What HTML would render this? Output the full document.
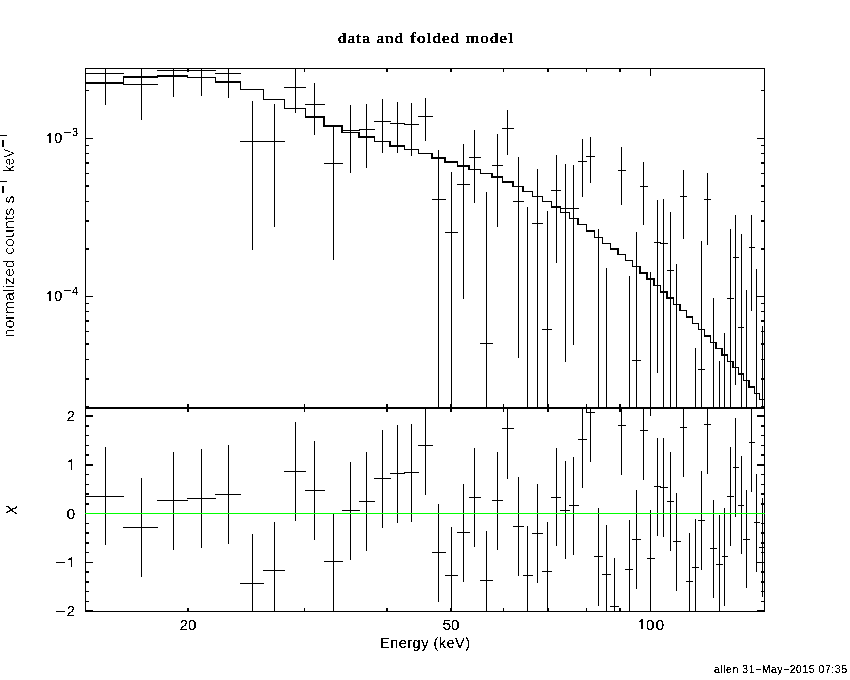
<!DOCTYPE html>
<html><head><meta charset="utf-8"><title>data and folded model</title>
<style>
html,body{margin:0;padding:0;background:#fff;}
body{width:850px;height:680px;overflow:hidden;}
svg{display:block;}
</style></head>
<body>
<svg width="850" height="680" viewBox="0 0 850 680">
<defs><filter id="bw" x="0" y="0" width="100%" height="100%"><feComponentTransfer><feFuncA type="discrete" tableValues="0 0 1 1 1"/></feComponentTransfer></filter><filter id="bw5" x="0" y="0" width="100%" height="100%"><feComponentTransfer><feFuncA type="discrete" tableValues="0 0 0 1 1"/></feComponentTransfer></filter></defs>
<rect x="0" y="0" width="850" height="680" fill="#fff"/>
<g shape-rendering="crispEdges" fill="#000">
<rect x="85" y="68" width="1" height="544"/>
<rect x="764" y="68" width="1" height="544"/>
<rect x="85" y="68" width="680" height="1"/>
<rect x="85" y="407" width="680" height="1"/>
<rect x="85" y="408" width="680" height="1"/>
<rect x="85" y="611" width="680" height="1"/>
<rect x="187" y="69" width="1" height="3"/>
<rect x="187" y="404" width="1" height="3"/>
<rect x="187" y="409" width="1" height="3"/>
<rect x="187" y="608" width="1" height="3"/>
<rect x="188" y="69" width="1" height="3"/>
<rect x="188" y="404" width="1" height="3"/>
<rect x="188" y="409" width="1" height="3"/>
<rect x="188" y="608" width="1" height="3"/>
<rect x="304" y="69" width="1" height="3"/>
<rect x="304" y="404" width="1" height="3"/>
<rect x="304" y="409" width="1" height="3"/>
<rect x="304" y="608" width="1" height="3"/>
<rect x="386" y="69" width="1" height="3"/>
<rect x="386" y="404" width="1" height="3"/>
<rect x="386" y="409" width="1" height="3"/>
<rect x="386" y="608" width="1" height="3"/>
<rect x="387" y="69" width="1" height="3"/>
<rect x="387" y="404" width="1" height="3"/>
<rect x="387" y="409" width="1" height="3"/>
<rect x="387" y="608" width="1" height="3"/>
<rect x="450" y="69" width="1" height="3"/>
<rect x="450" y="404" width="1" height="3"/>
<rect x="450" y="409" width="1" height="3"/>
<rect x="450" y="608" width="1" height="3"/>
<rect x="451" y="69" width="1" height="3"/>
<rect x="451" y="404" width="1" height="3"/>
<rect x="451" y="409" width="1" height="3"/>
<rect x="451" y="608" width="1" height="3"/>
<rect x="503" y="69" width="1" height="3"/>
<rect x="503" y="404" width="1" height="3"/>
<rect x="503" y="409" width="1" height="3"/>
<rect x="503" y="608" width="1" height="3"/>
<rect x="547" y="69" width="1" height="3"/>
<rect x="547" y="404" width="1" height="3"/>
<rect x="547" y="409" width="1" height="3"/>
<rect x="547" y="608" width="1" height="3"/>
<rect x="548" y="69" width="1" height="3"/>
<rect x="548" y="404" width="1" height="3"/>
<rect x="548" y="409" width="1" height="3"/>
<rect x="548" y="608" width="1" height="3"/>
<rect x="586" y="69" width="1" height="3"/>
<rect x="586" y="404" width="1" height="3"/>
<rect x="586" y="409" width="1" height="3"/>
<rect x="586" y="608" width="1" height="3"/>
<rect x="619" y="69" width="1" height="3"/>
<rect x="619" y="404" width="1" height="3"/>
<rect x="619" y="409" width="1" height="3"/>
<rect x="619" y="608" width="1" height="3"/>
<rect x="620" y="69" width="1" height="3"/>
<rect x="620" y="404" width="1" height="3"/>
<rect x="620" y="409" width="1" height="3"/>
<rect x="620" y="608" width="1" height="3"/>
<rect x="650" y="69" width="1" height="7"/>
<rect x="650" y="400" width="1" height="7"/>
<rect x="650" y="409" width="1" height="7"/>
<rect x="650" y="604" width="1" height="7"/>
<rect x="86" y="90" width="3" height="1"/>
<rect x="761" y="90" width="3" height="1"/>
<rect x="86" y="138" width="7" height="1"/>
<rect x="757" y="138" width="7" height="1"/>
<rect x="86" y="145" width="3" height="1"/>
<rect x="761" y="145" width="3" height="1"/>
<rect x="86" y="153" width="3" height="1"/>
<rect x="761" y="153" width="3" height="1"/>
<rect x="86" y="162" width="3" height="1"/>
<rect x="761" y="162" width="3" height="1"/>
<rect x="86" y="163" width="3" height="1"/>
<rect x="761" y="163" width="3" height="1"/>
<rect x="86" y="173" width="3" height="1"/>
<rect x="761" y="173" width="3" height="1"/>
<rect x="86" y="185" width="3" height="1"/>
<rect x="761" y="185" width="3" height="1"/>
<rect x="86" y="186" width="3" height="1"/>
<rect x="761" y="186" width="3" height="1"/>
<rect x="86" y="201" width="3" height="1"/>
<rect x="761" y="201" width="3" height="1"/>
<rect x="86" y="220" width="3" height="1"/>
<rect x="761" y="220" width="3" height="1"/>
<rect x="86" y="221" width="3" height="1"/>
<rect x="761" y="221" width="3" height="1"/>
<rect x="86" y="248" width="3" height="1"/>
<rect x="761" y="248" width="3" height="1"/>
<rect x="86" y="249" width="3" height="1"/>
<rect x="761" y="249" width="3" height="1"/>
<rect x="86" y="296" width="7" height="1"/>
<rect x="757" y="296" width="7" height="1"/>
<rect x="86" y="303" width="3" height="1"/>
<rect x="761" y="303" width="3" height="1"/>
<rect x="86" y="311" width="3" height="1"/>
<rect x="761" y="311" width="3" height="1"/>
<rect x="86" y="320" width="3" height="1"/>
<rect x="761" y="320" width="3" height="1"/>
<rect x="86" y="321" width="3" height="1"/>
<rect x="761" y="321" width="3" height="1"/>
<rect x="86" y="331" width="3" height="1"/>
<rect x="761" y="331" width="3" height="1"/>
<rect x="86" y="343" width="3" height="1"/>
<rect x="761" y="343" width="3" height="1"/>
<rect x="86" y="344" width="3" height="1"/>
<rect x="761" y="344" width="3" height="1"/>
<rect x="86" y="359" width="3" height="1"/>
<rect x="761" y="359" width="3" height="1"/>
<rect x="86" y="378" width="3" height="1"/>
<rect x="761" y="378" width="3" height="1"/>
<rect x="86" y="379" width="3" height="1"/>
<rect x="761" y="379" width="3" height="1"/>
<rect x="86" y="406" width="3" height="1"/>
<rect x="761" y="406" width="3" height="1"/>
<rect x="86" y="610" width="7" height="1"/>
<rect x="757" y="610" width="7" height="1"/>
<rect x="86" y="611" width="7" height="1"/>
<rect x="757" y="611" width="7" height="1"/>
<rect x="86" y="601" width="3" height="1"/>
<rect x="761" y="601" width="3" height="1"/>
<rect x="86" y="591" width="3" height="1"/>
<rect x="761" y="591" width="3" height="1"/>
<rect x="86" y="581" width="3" height="1"/>
<rect x="761" y="581" width="3" height="1"/>
<rect x="86" y="582" width="3" height="1"/>
<rect x="761" y="582" width="3" height="1"/>
<rect x="86" y="571" width="3" height="1"/>
<rect x="761" y="571" width="3" height="1"/>
<rect x="86" y="572" width="3" height="1"/>
<rect x="761" y="572" width="3" height="1"/>
<rect x="86" y="562" width="7" height="1"/>
<rect x="757" y="562" width="7" height="1"/>
<rect x="86" y="552" width="3" height="1"/>
<rect x="761" y="552" width="3" height="1"/>
<rect x="86" y="542" width="3" height="1"/>
<rect x="761" y="542" width="3" height="1"/>
<rect x="86" y="543" width="3" height="1"/>
<rect x="761" y="543" width="3" height="1"/>
<rect x="86" y="532" width="3" height="1"/>
<rect x="761" y="532" width="3" height="1"/>
<rect x="86" y="533" width="3" height="1"/>
<rect x="761" y="533" width="3" height="1"/>
<rect x="86" y="523" width="3" height="1"/>
<rect x="761" y="523" width="3" height="1"/>
<rect x="86" y="513" width="7" height="1"/>
<rect x="757" y="513" width="7" height="1"/>
<rect x="86" y="503" width="3" height="1"/>
<rect x="761" y="503" width="3" height="1"/>
<rect x="86" y="504" width="3" height="1"/>
<rect x="761" y="504" width="3" height="1"/>
<rect x="86" y="493" width="3" height="1"/>
<rect x="761" y="493" width="3" height="1"/>
<rect x="86" y="494" width="3" height="1"/>
<rect x="761" y="494" width="3" height="1"/>
<rect x="86" y="484" width="3" height="1"/>
<rect x="761" y="484" width="3" height="1"/>
<rect x="86" y="474" width="3" height="1"/>
<rect x="761" y="474" width="3" height="1"/>
<rect x="86" y="464" width="7" height="1"/>
<rect x="757" y="464" width="7" height="1"/>
<rect x="86" y="465" width="7" height="1"/>
<rect x="757" y="465" width="7" height="1"/>
<rect x="86" y="454" width="3" height="1"/>
<rect x="761" y="454" width="3" height="1"/>
<rect x="86" y="455" width="3" height="1"/>
<rect x="761" y="455" width="3" height="1"/>
<rect x="86" y="445" width="3" height="1"/>
<rect x="761" y="445" width="3" height="1"/>
<rect x="86" y="435" width="3" height="1"/>
<rect x="761" y="435" width="3" height="1"/>
<rect x="86" y="425" width="3" height="1"/>
<rect x="761" y="425" width="3" height="1"/>
<rect x="86" y="426" width="3" height="1"/>
<rect x="761" y="426" width="3" height="1"/>
<rect x="86" y="415" width="7" height="1"/>
<rect x="757" y="415" width="7" height="1"/>
<rect x="86" y="416" width="7" height="1"/>
<rect x="757" y="416" width="7" height="1"/>
<rect x="85" y="82" width="39" height="2"/>
<rect x="123" y="76" width="1" height="8"/>
<rect x="123" y="76" width="35" height="2"/>
<rect x="157" y="75" width="1" height="3"/>
<rect x="157" y="75" width="31" height="2"/>
<rect x="187" y="75" width="1" height="3"/>
<rect x="187" y="77" width="29" height="1"/>
<rect x="215" y="77" width="1" height="6"/>
<rect x="215" y="81" width="26" height="2"/>
<rect x="240" y="81" width="1" height="9"/>
<rect x="240" y="89" width="24" height="1"/>
<rect x="263" y="89" width="1" height="11"/>
<rect x="263" y="99" width="22" height="1"/>
<rect x="284" y="99" width="1" height="10"/>
<rect x="284" y="108" width="22" height="1"/>
<rect x="305" y="108" width="1" height="10"/>
<rect x="305" y="116" width="20" height="2"/>
<rect x="323" y="116" width="2" height="11"/>
<rect x="323" y="125" width="20" height="2"/>
<rect x="341" y="125" width="2" height="8"/>
<rect x="341" y="132" width="19" height="1"/>
<rect x="358" y="132" width="2" height="6"/>
<rect x="358" y="136" width="17" height="2"/>
<rect x="374" y="136" width="1" height="6"/>
<rect x="374" y="141" width="17" height="1"/>
<rect x="389" y="141" width="2" height="6"/>
<rect x="389" y="145" width="16" height="2"/>
<rect x="404" y="145" width="1" height="5"/>
<rect x="404" y="149" width="15" height="1"/>
<rect x="418" y="149" width="1" height="5"/>
<rect x="418" y="153" width="15" height="1"/>
<rect x="431" y="153" width="2" height="6"/>
<rect x="431" y="157" width="15" height="2"/>
<rect x="444" y="157" width="2" height="6"/>
<rect x="444" y="161" width="14" height="2"/>
<rect x="457" y="161" width="1" height="6"/>
<rect x="457" y="165" width="13" height="2"/>
<rect x="468" y="165" width="2" height="5"/>
<rect x="468" y="169" width="13" height="1"/>
<rect x="480" y="169" width="1" height="5"/>
<rect x="480" y="173" width="13" height="1"/>
<rect x="491" y="173" width="2" height="5"/>
<rect x="491" y="176" width="12" height="2"/>
<rect x="502" y="176" width="1" height="7"/>
<rect x="502" y="181" width="12" height="2"/>
<rect x="512" y="181" width="2" height="6"/>
<rect x="512" y="186" width="12" height="1"/>
<rect x="522" y="186" width="2" height="6"/>
<rect x="522" y="191" width="11" height="1"/>
<rect x="532" y="191" width="1" height="6"/>
<rect x="532" y="196" width="11" height="1"/>
<rect x="542" y="196" width="1" height="6"/>
<rect x="542" y="201" width="10" height="1"/>
<rect x="551" y="201" width="1" height="7"/>
<rect x="551" y="206" width="10" height="2"/>
<rect x="560" y="206" width="1" height="7"/>
<rect x="560" y="212" width="10" height="1"/>
<rect x="569" y="212" width="1" height="7"/>
<rect x="569" y="218" width="10" height="1"/>
<rect x="577" y="218" width="2" height="7"/>
<rect x="577" y="224" width="10" height="1"/>
<rect x="586" y="224" width="1" height="8"/>
<rect x="586" y="230" width="9" height="2"/>
<rect x="594" y="230" width="1" height="8"/>
<rect x="594" y="237" width="9" height="1"/>
<rect x="602" y="237" width="1" height="7"/>
<rect x="602" y="243" width="9" height="1"/>
<rect x="610" y="243" width="1" height="7"/>
<rect x="610" y="248" width="9" height="2"/>
<rect x="617" y="248" width="2" height="7"/>
<rect x="617" y="254" width="9" height="1"/>
<rect x="625" y="254" width="1" height="7"/>
<rect x="625" y="260" width="8" height="1"/>
<rect x="632" y="260" width="1" height="7"/>
<rect x="632" y="266" width="9" height="1"/>
<rect x="639" y="266" width="2" height="8"/>
<rect x="639" y="272" width="9" height="2"/>
<rect x="646" y="272" width="2" height="8"/>
<rect x="646" y="278" width="9" height="2"/>
<rect x="653" y="278" width="2" height="8"/>
<rect x="653" y="285" width="8" height="1"/>
<rect x="660" y="285" width="1" height="8"/>
<rect x="660" y="291" width="8" height="2"/>
<rect x="666" y="291" width="2" height="8"/>
<rect x="666" y="297" width="8" height="2"/>
<rect x="673" y="297" width="1" height="8"/>
<rect x="673" y="304" width="8" height="1"/>
<rect x="679" y="304" width="2" height="7"/>
<rect x="679" y="310" width="8" height="1"/>
<rect x="686" y="310" width="1" height="8"/>
<rect x="686" y="316" width="7" height="2"/>
<rect x="692" y="316" width="1" height="8"/>
<rect x="692" y="323" width="7" height="1"/>
<rect x="698" y="323" width="1" height="7"/>
<rect x="698" y="329" width="7" height="1"/>
<rect x="704" y="329" width="1" height="8"/>
<rect x="704" y="335" width="7" height="2"/>
<rect x="710" y="335" width="1" height="8"/>
<rect x="710" y="342" width="7" height="1"/>
<rect x="715" y="342" width="2" height="7"/>
<rect x="715" y="348" width="8" height="1"/>
<rect x="721" y="348" width="2" height="8"/>
<rect x="721" y="354" width="7" height="2"/>
<rect x="727" y="354" width="1" height="8"/>
<rect x="727" y="361" width="7" height="1"/>
<rect x="732" y="361" width="2" height="7"/>
<rect x="732" y="367" width="7" height="1"/>
<rect x="738" y="367" width="1" height="8"/>
<rect x="738" y="373" width="6" height="2"/>
<rect x="743" y="373" width="1" height="8"/>
<rect x="743" y="380" width="7" height="1"/>
<rect x="748" y="380" width="2" height="8"/>
<rect x="748" y="386" width="7" height="2"/>
<rect x="754" y="386" width="1" height="8"/>
<rect x="754" y="393" width="6" height="1"/>
<rect x="759" y="393" width="1" height="7"/>
<rect x="759" y="399" width="6" height="1"/>
<rect x="85" y="73" width="39" height="1"/>
<rect x="105" y="68" width="1" height="37"/>
<rect x="123" y="84" width="35" height="1"/>
<rect x="141" y="68" width="1" height="52"/>
<rect x="157" y="70" width="31" height="1"/>
<rect x="173" y="68" width="1" height="29"/>
<rect x="187" y="70" width="29" height="1"/>
<rect x="201" y="68" width="1" height="28"/>
<rect x="215" y="73" width="26" height="1"/>
<rect x="228" y="68" width="1" height="30"/>
<rect x="240" y="141" width="24" height="1"/>
<rect x="252" y="101" width="1" height="149"/>
<rect x="263" y="141" width="22" height="1"/>
<rect x="274" y="104" width="1" height="123"/>
<rect x="284" y="87" width="22" height="1"/>
<rect x="295" y="68" width="1" height="45"/>
<rect x="305" y="104" width="20" height="1"/>
<rect x="314" y="83" width="1" height="52"/>
<rect x="324" y="163" width="19" height="1"/>
<rect x="333" y="126" width="1" height="134"/>
<rect x="342" y="130" width="18" height="1"/>
<rect x="350" y="105" width="1" height="68"/>
<rect x="359" y="129" width="16" height="1"/>
<rect x="366" y="104" width="1" height="64"/>
<rect x="374" y="121" width="17" height="1"/>
<rect x="382" y="99" width="1" height="54"/>
<rect x="390" y="123" width="15" height="1"/>
<rect x="397" y="102" width="1" height="51"/>
<rect x="404" y="124" width="15" height="1"/>
<rect x="411" y="103" width="1" height="53"/>
<rect x="418" y="116" width="15" height="1"/>
<rect x="425" y="98" width="1" height="43"/>
<rect x="432" y="199" width="14" height="1"/>
<rect x="438" y="150" width="1" height="258"/>
<rect x="445" y="232" width="13" height="1"/>
<rect x="451" y="172" width="1" height="236"/>
<rect x="457" y="184" width="13" height="1"/>
<rect x="463" y="144" width="1" height="155"/>
<rect x="469" y="157" width="12" height="1"/>
<rect x="474" y="130" width="1" height="73"/>
<rect x="480" y="343" width="13" height="1"/>
<rect x="486" y="192" width="1" height="216"/>
<rect x="492" y="165" width="11" height="1"/>
<rect x="497" y="134" width="1" height="93"/>
<rect x="502" y="128" width="12" height="1"/>
<rect x="507" y="110" width="1" height="45"/>
<rect x="513" y="201" width="11" height="1"/>
<rect x="518" y="157" width="1" height="201"/>
<rect x="527" y="207" width="1" height="201"/>
<rect x="532" y="223" width="11" height="1"/>
<rect x="537" y="169" width="1" height="239"/>
<rect x="542" y="329" width="10" height="1"/>
<rect x="547" y="211" width="1" height="197"/>
<rect x="551" y="190" width="10" height="1"/>
<rect x="556" y="155" width="1" height="108"/>
<rect x="560" y="208" width="10" height="1"/>
<rect x="565" y="164" width="1" height="198"/>
<rect x="569" y="208" width="10" height="1"/>
<rect x="573" y="165" width="1" height="180"/>
<rect x="578" y="161" width="9" height="1"/>
<rect x="582" y="139" width="1" height="58"/>
<rect x="586" y="156" width="9" height="1"/>
<rect x="590" y="137" width="1" height="46"/>
<rect x="598" y="229" width="1" height="179"/>
<rect x="606" y="268" width="1" height="140"/>
<rect x="618" y="170" width="8" height="1"/>
<rect x="621" y="147" width="1" height="58"/>
<rect x="629" y="276" width="1" height="132"/>
<rect x="632" y="360" width="9" height="1"/>
<rect x="636" y="232" width="1" height="176"/>
<rect x="640" y="186" width="8" height="1"/>
<rect x="643" y="162" width="1" height="63"/>
<rect x="650" y="272" width="1" height="136"/>
<rect x="654" y="242" width="7" height="1"/>
<rect x="657" y="200" width="1" height="173"/>
<rect x="660" y="243" width="8" height="1"/>
<rect x="663" y="199" width="1" height="209"/>
<rect x="667" y="270" width="7" height="1"/>
<rect x="670" y="212" width="1" height="196"/>
<rect x="676" y="264" width="1" height="144"/>
<rect x="680" y="196" width="7" height="1"/>
<rect x="683" y="170" width="1" height="69"/>
<rect x="695" y="348" width="1" height="60"/>
<rect x="698" y="369" width="7" height="1"/>
<rect x="701" y="241" width="1" height="167"/>
<rect x="704" y="199" width="7" height="1"/>
<rect x="707" y="173" width="1" height="72"/>
<rect x="713" y="298" width="1" height="110"/>
<rect x="719" y="361" width="1" height="47"/>
<rect x="724" y="333" width="1" height="75"/>
<rect x="727" y="298" width="7" height="1"/>
<rect x="730" y="229" width="1" height="179"/>
<rect x="733" y="257" width="6" height="1"/>
<rect x="735" y="215" width="1" height="170"/>
<rect x="738" y="327" width="6" height="1"/>
<rect x="741" y="234" width="1" height="174"/>
<rect x="746" y="290" width="1" height="118"/>
<rect x="749" y="247" width="6" height="1"/>
<rect x="751" y="215" width="1" height="96"/>
<rect x="756" y="269" width="1" height="139"/>
<rect x="762" y="326" width="1" height="82"/>
<rect x="85" y="496" width="39" height="1"/>
<rect x="105" y="447" width="1" height="98"/>
<rect x="123" y="527" width="35" height="1"/>
<rect x="141" y="478" width="1" height="99"/>
<rect x="157" y="500" width="31" height="1"/>
<rect x="173" y="452" width="1" height="98"/>
<rect x="187" y="498" width="29" height="1"/>
<rect x="201" y="449" width="1" height="99"/>
<rect x="215" y="494" width="26" height="1"/>
<rect x="228" y="445" width="1" height="99"/>
<rect x="240" y="583" width="24" height="1"/>
<rect x="252" y="534" width="1" height="78"/>
<rect x="263" y="570" width="22" height="1"/>
<rect x="274" y="522" width="1" height="90"/>
<rect x="284" y="471" width="22" height="1"/>
<rect x="295" y="422" width="1" height="99"/>
<rect x="305" y="490" width="20" height="1"/>
<rect x="314" y="441" width="1" height="99"/>
<rect x="324" y="561" width="19" height="1"/>
<rect x="333" y="513" width="1" height="99"/>
<rect x="342" y="510" width="18" height="1"/>
<rect x="350" y="462" width="1" height="98"/>
<rect x="359" y="501" width="16" height="1"/>
<rect x="366" y="452" width="1" height="99"/>
<rect x="374" y="478" width="17" height="1"/>
<rect x="382" y="430" width="1" height="98"/>
<rect x="390" y="473" width="15" height="1"/>
<rect x="397" y="425" width="1" height="98"/>
<rect x="404" y="472" width="15" height="1"/>
<rect x="411" y="424" width="1" height="98"/>
<rect x="418" y="445" width="15" height="1"/>
<rect x="425" y="408" width="1" height="87"/>
<rect x="432" y="552" width="14" height="1"/>
<rect x="438" y="504" width="1" height="98"/>
<rect x="445" y="575" width="13" height="1"/>
<rect x="451" y="527" width="1" height="85"/>
<rect x="457" y="532" width="13" height="1"/>
<rect x="463" y="484" width="1" height="98"/>
<rect x="469" y="497" width="12" height="1"/>
<rect x="474" y="448" width="1" height="99"/>
<rect x="480" y="580" width="13" height="1"/>
<rect x="486" y="531" width="1" height="81"/>
<rect x="492" y="500" width="11" height="1"/>
<rect x="497" y="452" width="1" height="98"/>
<rect x="502" y="428" width="12" height="1"/>
<rect x="507" y="408" width="1" height="71"/>
<rect x="513" y="526" width="11" height="1"/>
<rect x="518" y="477" width="1" height="99"/>
<rect x="523" y="575" width="10" height="1"/>
<rect x="527" y="526" width="1" height="86"/>
<rect x="532" y="533" width="11" height="1"/>
<rect x="537" y="484" width="1" height="99"/>
<rect x="542" y="571" width="10" height="1"/>
<rect x="547" y="522" width="1" height="90"/>
<rect x="551" y="497" width="10" height="1"/>
<rect x="556" y="448" width="1" height="98"/>
<rect x="560" y="510" width="10" height="1"/>
<rect x="565" y="461" width="1" height="98"/>
<rect x="569" y="505" width="10" height="1"/>
<rect x="573" y="457" width="1" height="98"/>
<rect x="578" y="439" width="9" height="1"/>
<rect x="582" y="408" width="1" height="80"/>
<rect x="586" y="412" width="9" height="1"/>
<rect x="590" y="408" width="1" height="54"/>
<rect x="594" y="556" width="9" height="1"/>
<rect x="598" y="508" width="1" height="98"/>
<rect x="602" y="574" width="9" height="1"/>
<rect x="606" y="525" width="1" height="87"/>
<rect x="610" y="606" width="9" height="1"/>
<rect x="614" y="558" width="1" height="54"/>
<rect x="618" y="425" width="8" height="1"/>
<rect x="621" y="408" width="1" height="67"/>
<rect x="625" y="569" width="8" height="1"/>
<rect x="629" y="520" width="1" height="92"/>
<rect x="632" y="539" width="9" height="1"/>
<rect x="636" y="490" width="1" height="99"/>
<rect x="640" y="430" width="8" height="1"/>
<rect x="643" y="408" width="1" height="72"/>
<rect x="647" y="558" width="8" height="1"/>
<rect x="650" y="510" width="1" height="102"/>
<rect x="654" y="486" width="7" height="1"/>
<rect x="657" y="438" width="1" height="98"/>
<rect x="660" y="487" width="8" height="1"/>
<rect x="663" y="438" width="1" height="99"/>
<rect x="667" y="501" width="7" height="1"/>
<rect x="670" y="452" width="1" height="99"/>
<rect x="673" y="541" width="8" height="1"/>
<rect x="676" y="493" width="1" height="98"/>
<rect x="680" y="427" width="7" height="1"/>
<rect x="683" y="408" width="1" height="69"/>
<rect x="686" y="581" width="7" height="1"/>
<rect x="689" y="533" width="1" height="79"/>
<rect x="692" y="567" width="7" height="1"/>
<rect x="695" y="519" width="1" height="93"/>
<rect x="698" y="520" width="7" height="1"/>
<rect x="701" y="471" width="1" height="99"/>
<rect x="704" y="424" width="7" height="1"/>
<rect x="707" y="408" width="1" height="66"/>
<rect x="710" y="548" width="7" height="1"/>
<rect x="713" y="500" width="1" height="98"/>
<rect x="716" y="564" width="7" height="1"/>
<rect x="719" y="515" width="1" height="97"/>
<rect x="722" y="556" width="6" height="1"/>
<rect x="724" y="508" width="1" height="98"/>
<rect x="727" y="496" width="7" height="1"/>
<rect x="730" y="447" width="1" height="99"/>
<rect x="733" y="467" width="6" height="1"/>
<rect x="735" y="418" width="1" height="99"/>
<rect x="738" y="505" width="6" height="1"/>
<rect x="741" y="456" width="1" height="98"/>
<rect x="743" y="539" width="7" height="1"/>
<rect x="746" y="490" width="1" height="98"/>
<rect x="749" y="442" width="6" height="1"/>
<rect x="751" y="408" width="1" height="84"/>
<rect x="754" y="522" width="6" height="1"/>
<rect x="756" y="474" width="1" height="98"/>
<rect x="759" y="547" width="6" height="1"/>
<rect x="762" y="498" width="1" height="99"/>
<rect x="85" y="513" width="680" height="1" fill="#00ff00"/>
<rect x="64" y="132" width="7" height="1"/>
<rect x="64" y="290" width="7" height="1"/>
<rect x="56" y="562" width="9" height="1"/>
<rect x="56" y="611" width="9" height="1"/>
<rect x="0" y="181" width="7" height="1"/>
<rect x="2" y="186" width="2" height="7"/>
<rect x="0" y="135" width="7" height="1"/>
<rect x="2" y="140" width="2" height="7"/>
<rect x="49" y="133" width="2" height="10"/>
<rect x="47" y="135" width="2" height="1"/>
<rect x="48" y="134" width="1" height="2"/>
<rect x="49" y="291" width="2" height="10"/>
<rect x="47" y="293" width="2" height="1"/>
<rect x="48" y="292" width="1" height="2"/>
<rect x="641" y="619" width="2" height="10"/>
<rect x="639" y="621" width="2" height="1"/>
<rect x="640" y="620" width="1" height="2"/>
<rect x="71" y="459" width="1" height="11"/>
<rect x="68" y="461" width="2" height="1"/>
<rect x="69" y="460" width="2" height="2"/>
<rect x="71" y="557" width="1" height="10"/>
<rect x="68" y="559" width="2" height="1"/>
<rect x="69" y="558" width="2" height="2"/>
</g>
<g fill="#000" filter="url(#bw)">
<text x="338" y="43" font-family="&quot;Liberation Serif&quot;, serif" font-size="15" font-weight="normal" text-anchor="start" textLength="156.24999999999997" lengthAdjust="spacing" stroke="#000" stroke-width="0.4" transform="translate(338,0) scale(1.12,1) translate(-338,0)">data and folded model</text>
<text x="188" y="630" font-family="&quot;Liberation Sans&quot;, sans-serif" font-size="15.5" font-weight="normal" text-anchor="middle" textLength="17" lengthAdjust="spacing" >20</text>
<text x="451" y="630" font-family="&quot;Liberation Sans&quot;, sans-serif" font-size="15.5" font-weight="normal" text-anchor="middle" textLength="17" lengthAdjust="spacing" >50</text>
<text x="425" y="648" font-family="&quot;Liberation Sans&quot;, sans-serif" font-size="14.5" font-weight="normal" text-anchor="middle" textLength="90" lengthAdjust="spacing" >Energy (keV)</text>
<text x="847" y="673" font-family="&quot;Liberation Sans&quot;, sans-serif" font-size="10.5" font-weight="normal" text-anchor="end" textLength="133" lengthAdjust="spacing" >allen 31−May−2015 07:35</text>
<text x="72" y="136" font-family="&quot;Liberation Sans&quot;, sans-serif" font-size="11" font-weight="normal" text-anchor="start" textLength="6.5" lengthAdjust="spacing" >3</text>
<text x="72" y="295" font-family="&quot;Liberation Sans&quot;, sans-serif" font-size="11" font-weight="normal" text-anchor="start" textLength="6.5" lengthAdjust="spacing" >4</text>
<text x="75" y="421" font-family="&quot;Liberation Sans&quot;, sans-serif" font-size="15.5" font-weight="normal" text-anchor="end" >2</text>
<text x="75" y="519" font-family="&quot;Liberation Sans&quot;, sans-serif" font-size="15.5" font-weight="normal" text-anchor="end" >0</text>
<text x="75" y="616" font-family="&quot;Liberation Sans&quot;, sans-serif" font-size="15.5" font-weight="normal" text-anchor="end" >2</text>
<g filter="url(#bw5)"><g transform="translate(14,337.4) rotate(-90)" font-family="&quot;Liberation Sans&quot;, sans-serif"><text x="0" y="0" font-size="14.5" textLength="142" lengthAdjust="spacingAndGlyphs">normalized counts s</text><text x="165.5" y="0" font-size="14.5" textLength="23" lengthAdjust="spacingAndGlyphs">keV</text></g></g>
<path d="M6,506.5 L8.5,506.5 L10.5,508.5 L12,510.5 L14,512 L16.5,513.5 M6.5,512.5 L11,510 L14,508.3 L16,508 L16.5,506.5" fill="none" stroke="#000" stroke-width="1.2"/>
<text x="54.2" y="143" font-family="&quot;Liberation Sans&quot;, sans-serif" font-size="14.5" font-weight="normal" text-anchor="start" >0</text>
<text x="54.2" y="301" font-family="&quot;Liberation Sans&quot;, sans-serif" font-size="14.5" font-weight="normal" text-anchor="start" >0</text>
<text x="646" y="630" font-family="&quot;Liberation Sans&quot;, sans-serif" font-size="15.5" font-weight="normal" text-anchor="start" textLength="18" lengthAdjust="spacing" >00</text>
</g>
</svg>
</body></html>
